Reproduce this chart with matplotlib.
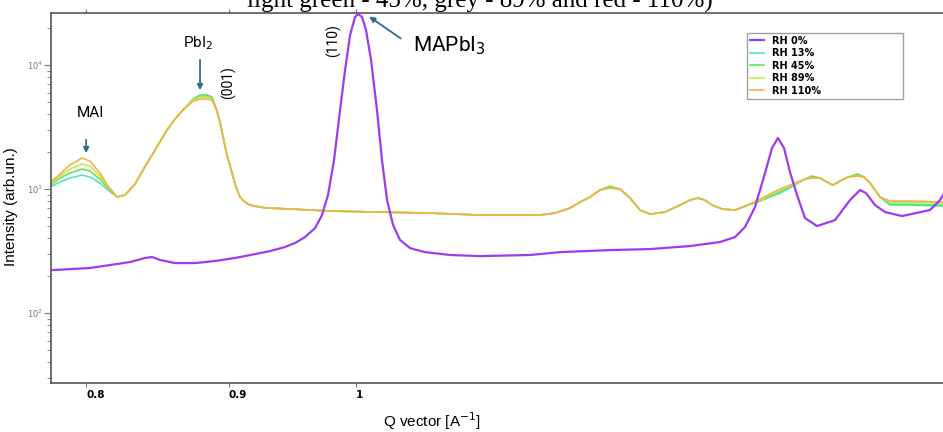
import matplotlib
matplotlib.use("Agg")
import matplotlib.pyplot as plt
from matplotlib.ticker import FixedLocator, LogLocator, NullFormatter

# Q vector [A^-1] and intensities for the dry film (RH 0%)
q_dry = [0.7777, 0.7894, 0.8026, 0.8160, 0.8296, 0.8399, 0.8448, 0.8504, 0.8610,
         0.8754, 0.8900, 0.9048, 0.9199, 0.9314, 0.9430, 0.9508, 0.9587, 0.9667,
         0.9723, 0.9771, 0.9820, 0.9869, 0.9910, 0.9951, 0.9992, 1.0017, 1.0050,
         1.0083, 1.0125, 1.0175, 1.0217, 1.0260, 1.0311, 1.0371, 1.0457, 1.0587,
         1.0808, 1.1080, 1.1547, 1.1837, 1.2337, 1.2752, 1.3180, 1.3511, 1.3680,
         1.3794, 1.3908, 1.4024, 1.4105, 1.4175, 1.4246, 1.4316, 1.4400, 1.4495,
         1.4640, 1.4859, 1.5045, 1.5170, 1.5245, 1.5359, 1.5487, 1.5706, 1.6073,
         1.6207, 1.6247]
rh0 = [222, 226, 231, 244, 258, 278, 283, 268, 253,
       253, 263, 278, 299, 316, 341, 367, 410, 485,
       617, 895, 1713, 4336, 9115, 17450, 24390, 25780, 24390,
       19160, 10970, 4336, 1713, 815, 513, 388, 334, 310,
       294, 288, 294, 310, 322, 328, 347, 374, 410,
       494, 716, 1346, 2141, 2577, 2141, 1371, 895, 584,
       503, 562, 815, 982, 928, 743, 652, 606, 677,
       815, 895]

# common Q grid for the humid measurements
q_wet = [0.7777, 0.7829, 0.7894, 0.7973, 0.8026, 0.8092, 0.8146, 0.8207, 0.8261,
         0.8330, 0.8385, 0.8469, 0.8553, 0.8610, 0.8667, 0.8739, 0.8790, 0.8841,
         0.8878, 0.8914, 0.8936, 0.8959, 0.8988, 0.9026, 0.9055, 0.9085, 0.9123,
         0.9161, 0.9237, 0.9291, 0.9469, 0.9787, 1.0200, 1.0631, 1.1080, 1.1643,
         1.1788, 1.1936, 1.2035, 1.2135, 1.2235, 1.2337, 1.2440, 1.2543, 1.2647,
         1.2752, 1.2911, 1.3072, 1.3180, 1.3268, 1.3345, 1.3422, 1.3534, 1.3680,
         1.3828, 1.3966, 1.4082, 1.4199, 1.4376, 1.4495, 1.4579, 1.4676, 1.4761,
         1.4835, 1.4921, 1.5020, 1.5144, 1.5220, 1.5296, 1.5359, 1.5423, 1.5551,
         1.5810, 1.6247]
rh13 = [1057, 1139, 1227, 1297, 1250, 1118, 982, 862, 895,
        1097, 1423, 2063, 2990, 3668, 4336, 5220, 5623, 5623,
        5418, 4256, 3469, 2626, 1880, 1346, 1038, 862, 785,
        743, 716, 703, 690, 665, 652, 640, 617, 617,
        640, 703, 785, 862, 982, 1038, 1000, 846, 677,
        628, 652, 743, 815, 846, 815, 743, 690, 677,
        743, 800, 862, 928, 1077, 1204, 1250, 1227, 1139,
        1077, 1160, 1250, 1297, 1250, 1118, 982, 862, 757,
        757, 743]
rh45 = [1097, 1227, 1346, 1450, 1397, 1204, 1019, 862, 895,
        1097, 1423, 2063, 2990, 3668, 4336, 5318, 5730, 5730,
        5519, 4256, 3469, 2626, 1880, 1346, 1038, 862, 785,
        743, 716, 703, 690, 665, 652, 640, 617, 617,
        640, 703, 785, 862, 982, 1057, 1000, 846, 677,
        628, 652, 743, 815, 846, 815, 743, 690, 677,
        743, 800, 878, 946, 1097, 1204, 1273, 1227, 1139,
        1077, 1160, 1250, 1321, 1250, 1118, 982, 862, 743,
        743, 729]
rh89 = [1118, 1273, 1450, 1591, 1533, 1273, 1038, 862, 895,
        1097, 1423, 2063, 2990, 3668, 4336, 5220, 5519, 5519,
        5318, 4256, 3469, 2626, 1880, 1346, 1038, 862, 785,
        743, 716, 703, 690, 665, 652, 640, 617, 617,
        640, 703, 785, 862, 982, 1019, 1000, 846, 677,
        628, 652, 743, 815, 846, 815, 743, 690, 677,
        743, 815, 895, 982, 1097, 1204, 1227, 1227, 1139,
        1077, 1160, 1250, 1273, 1250, 1118, 982, 862, 785,
        785, 771]
rh110 = [1160, 1321, 1562, 1778, 1681, 1346, 1057, 862, 895,
         1097, 1423, 2063, 2990, 3668, 4336, 5125, 5318, 5318,
         5220, 4256, 3469, 2626, 1880, 1346, 1038, 862, 785,
         743, 716, 703, 690, 665, 652, 640, 617, 617,
         640, 703, 785, 862, 982, 1019, 1000, 846, 677,
         628, 652, 743, 815, 846, 815, 743, 690, 677,
         743, 830, 911, 1000, 1118, 1204, 1227, 1227, 1139,
         1077, 1160, 1250, 1273, 1250, 1118, 982, 862, 800,
         800, 785]

labels = ["RH 0%", "RH 13%", "RH 45%", "RH 89%", "RH 110%"]
colors = ["#9b3cf0", "#4de8c0", "#5de65d", "#c8e84a", "#f5b04a"]

x_ticks = [0.8, 0.9, 1.0]
x_ticklabels = ["0.8", "0.9", "1"]

fig = plt.figure(figsize=(9.43, 4.32), dpi=100)
ax = fig.add_axes([51 / 943, 49 / 432, 892 / 943, 370 / 432])

ax.plot(q_dry, rh0, color=colors[0], lw=1.6, label=labels[0], zorder=5)
for ys, c, lab in zip([rh13, rh45, rh89, rh110], colors[1:], labels[1:]):
    ax.plot(q_wet, ys, color=c, lw=1.2, label=lab)

ax.set_xscale("log")
ax.set_yscale("log")
ax.set_xlim(0.7771, 1.6247)
ax.set_ylim(27.3, 26270)

# x axis: a few bold labels sitting right of their ticks
ax.xaxis.set_major_locator(FixedLocator(x_ticks))
ax.xaxis.set_minor_locator(FixedLocator([]))
ax.xaxis.set_minor_formatter(NullFormatter())
ax.set_xticklabels(x_ticklabels, fontsize=7.5, fontweight="bold", ha="left")
ax.tick_params(axis="x", which="major", direction="out", length=3, width=0.8,
               color="#777777", pad=2, top=True)

# y axis: decade labels in small grey
ax.yaxis.set_major_locator(LogLocator(base=10, numticks=10))
ax.yaxis.set_minor_locator(LogLocator(base=10, subs=range(2, 10), numticks=10))
ax.yaxis.set_minor_formatter(NullFormatter())
ax.tick_params(axis="y", which="major", direction="out", length=5, width=0.8,
               color="#777777", labelsize=6, labelcolor="#777777", pad=1)
ax.tick_params(axis="y", which="minor", direction="out", length=3, width=0.6,
               color="#777777")

for side in ["left", "bottom", "top"]:
    ax.spines[side].set_color("#555555")
    ax.spines[side].set_linewidth(1.2)
ax.spines["right"].set_visible(False)

ax.set_xlabel("Q vector [A$^{-1}$]", fontsize=11, family="Liberation Sans")
ax.xaxis.set_label_coords((432 - 51) / 892, -0.075)
ax.set_ylabel("Intensity (arb.un.)", fontsize=11, family="Liberation Sans")
ax.yaxis.set_label_coords(-0.037, 0.478)

# peak annotations
arrow_c = "#2b6e88"
arrow_kw = dict(arrowstyle="-|>", color=arrow_c, lw=1.3, mutation_scale=8)
ax.annotate("", xy=(0.8, 1845), xytext=(0.8, 2626), arrowprops=arrow_kw)
ax.text(0.8026, 4102, "MAI", fontsize=11, ha="center", va="center", family="Roboto")
ax.annotate("", xy=(0.879, 5945), xytext=(0.879, 11600), arrowprops=arrow_kw)
ax.text(0.8775, 15040, "PbI$_2$", fontsize=11, ha="center", va="center", family="Roboto")
ax.annotate("", xy=(1.0091, 25310), xytext=(1.0396, 15900), arrowprops=arrow_kw)
ax.text(1.0483, 14230, "MAPbI$_3$", fontsize=15, ha="left", va="center", family="Roboto")
ax.text(0.8996, 7157, "(001)", fontsize=10, rotation=90, ha="center", va="center",
        family="Roboto")
ax.text(0.9812, 15610, "(110)", fontsize=10, rotation=90, ha="center", va="center",
        family="Roboto")

leg = ax.legend(loc="upper left", bbox_to_anchor=(0.780, 0.789, 0.175, 0.157),
                mode="expand", prop={"weight": "bold", "size": 7},
                frameon=True, fancybox=False, handlelength=1.5, handletextpad=0.8,
                labelspacing=0.25, borderpad=0.3, borderaxespad=0)
leg.get_frame().set_edgecolor("#888888")
leg.get_frame().set_linewidth(1.0)

# caption line running off the top of the figure
fig.text(480 / 943, 1 - 8 / 432, "light green - 45%, grey - 89% and red - 110%)",
         fontsize=18, family="Liberation Serif", ha="center", va="baseline")

fig.savefig("out.png", dpi=100)
